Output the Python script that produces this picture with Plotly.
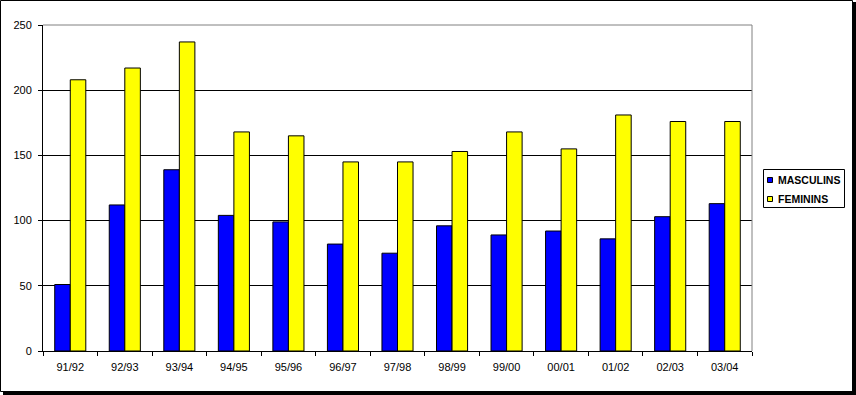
import plotly.graph_objects as go

categories = ["91/92", "92/93", "93/94", "94/95", "95/96", "96/97", "97/98",
              "98/99", "99/00", "00/01", "01/02", "02/03", "03/04"]
masculins = [51, 112, 139, 104, 99, 82, 75, 96, 89, 92, 86, 103, 113]
feminins = [208, 217, 237, 168, 165, 145, 145, 153, 168, 155, 181, 176, 176]
series_names = ["MASCULINS", "FEMININS"]
series_colors = ["#0000FF", "#FFFF00"]
y_ticks = [0, 50, 100, 150, 200, 250]

W, H = 856, 395
L, R, T, B = 43, 752, 25, 351  # plot area in pixels


def px(x):
    return (x - L) / (R - L)


def py(y):
    return (B - y) / (B - T)


fig = go.Figure()
for name, vals, col in zip(series_names, [masculins, feminins], series_colors):
    fig.add_trace(go.Bar(
        x=categories, y=vals, name=name,
        marker=dict(color=col, line=dict(color="black", width=1)),
        showlegend=False,
    ))

shapes = []
# plot area border (top, right) in gray
shapes.append(dict(type="line", xref="paper", yref="paper", x0=0, x1=1, y0=1, y1=1,
                   line=dict(color="#808080", width=1), layer="above"))
shapes.append(dict(type="line", xref="paper", yref="paper", x0=1, x1=1, y0=0, y1=1,
                   line=dict(color="#808080", width=1), layer="above"))
# outer chart frame
shapes.append(dict(type="rect", xref="paper", yref="paper",
                   x0=px(0.5), x1=px(852.5), y0=py(391.5), y1=py(0.5),
                   line=dict(color="black", width=1), layer="above"))
# shadow
shapes.append(dict(type="rect", xref="paper", yref="paper",
                   x0=px(852), x1=px(856), y0=py(395), y1=py(2),
                   line=dict(width=0), fillcolor="black", layer="above"))
shapes.append(dict(type="rect", xref="paper", yref="paper",
                   x0=px(3), x1=px(856), y0=py(395), y1=py(391),
                   line=dict(width=0), fillcolor="black", layer="above"))
# legend box
shapes.append(dict(type="rect", xref="paper", yref="paper",
                   x0=px(763.5), x1=px(844.5), y0=py(207.5), y1=py(169.5),
                   line=dict(color="black", width=1), fillcolor="white", layer="above"))

annotations = []
legend_rows = [180, 199]
for name, col, yc in zip(series_names, series_colors, legend_rows):
    shapes.append(dict(type="rect", xref="paper", yref="paper",
                       x0=px(767.5), x1=px(772.5), y0=py(yc + 2.5), y1=py(yc - 2.5),
                       line=dict(color="black", width=1), fillcolor=col, layer="above"))
    annotations.append(dict(xref="paper", yref="paper", x=px(776), y=py(yc),
                            xanchor="left", yanchor="middle", showarrow=False,
                            text="<b>" + name + "</b>",
                            font=dict(family="Arial, Liberation Sans", size=10.5, color="black")))

fig.update_layout(
    width=W, height=H,
    margin=dict(l=L, r=W - R, t=T, b=H - B, pad=0),
    paper_bgcolor="white", plot_bgcolor="white",
    barmode="group", bargap=0.43, bargroupgap=0,
    font=dict(family="Arial, Liberation Sans", size=11, color="black"),
    shapes=shapes, annotations=annotations,
    showlegend=False,
)
fig.update_xaxes(
    type="category", showline=True, linecolor="black", linewidth=1,
    ticks="outside", tickson="boundaries", ticklen=4, tickcolor="black",
    showgrid=False, ticklabelstandoff=6,
)
fig.update_yaxes(
    range=[0, 250], tickvals=y_ticks, showline=True, linecolor="black", linewidth=1,
    ticks="outside", ticklen=4, tickcolor="black",
    showgrid=True, gridcolor="black", gridwidth=1, zeroline=False,
    ticklabelstandoff=4,
)

fig.write_html("out.html", config={"displayModeBar": False},
               post_script="document.body.style.margin='0';document.body.style.overflow='hidden';")
